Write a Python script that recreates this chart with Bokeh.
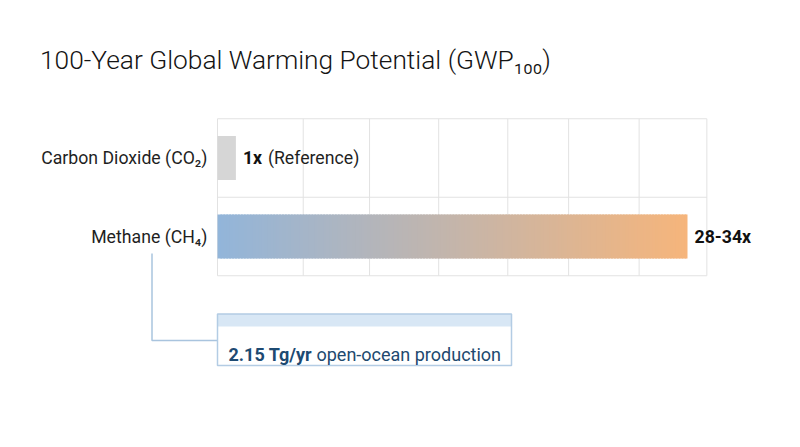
import numpy as np
from bokeh.plotting import figure
from bokeh.models import Range1d
from bokeh.core.properties import value
from bokeh.embed import file_html
from bokeh.resources import INLINE

# ---------------- data ----------------
gases = ["Carbon Dioxide (CO₂)", "Methane (CH₄)"]
gwp_values = [1, 34]
value_labels_bold = ["1x", "28-34x"]
value_labels_note = ["(Reference)", ""]
callout_bold = "2.15 Tg/yr"
callout_text = "open-ocean production"
title_text = "100-Year Global Warming Potential (GWP₁₀₀)"

# ---------------- layout helpers (page pixels -> data) ----------------
W, H = 784, 431
PAGE = 0                 # canvas origin in screenshot pixels
X0_PX = 217.0            # screenshot x of value 0
X_SCALE = 470.0 / 34.0   # px per unit
YC_PX = 236.0            # screenshot y of bottom row centre
Y_SCALE = 78.5           # px per row


def sx(px):
    return (px - X0_PX) / X_SCALE


def sy(py):
    return (YC_PX - py) / Y_SCALE


p = figure(width=W, height=H,
           x_range=Range1d(sx(PAGE), sx(PAGE + W)),
           y_range=Range1d(sy(PAGE + H), sy(PAGE)),
           output_backend="svg", toolbar_location=None,
           x_axis_location=None, y_axis_location=None,
           min_border=0, title=None)
p.outline_line_color = None
p.grid.visible = False
p.background_fill_color = "white"
p.border_fill_color = "white"

n = len(gases)
rows = [n - 1 - i for i in range(n)]
FONT = value("Roboto")
TXT = "#1f1f1f"
LBL = "17.7px"

# grid (table-like background)
grid_x = [0, 6.2, 11.0, 16.0, 21.0, 25.4, 30.5, 35.4]
grid_y = [r - 0.5 for r in rows] + [rows[0] + 0.5]
p.segment(x0=grid_x, y0=-0.5, x1=grid_x, y1=n - 0.5, line_color="#e2e2e2", line_width=1)
p.segment(x0=0, y0=grid_y, x1=grid_x[-1], y1=grid_y, line_color="#e2e2e2", line_width=1)

# bars
BAR_H = 0.56
MIN_LEN = 1.33
bar_end = [max(v, MIN_LEN) for v in gwp_values]

# CO2 (grey)
p.quad(left=[0], right=[bar_end[0]], bottom=[rows[0] - BAR_H / 2], top=[rows[0] + BAR_H / 2],
       fill_color="#d6d6d6", line_color=None)

# Methane gradient bar
c0 = np.array([147, 182, 218])
c1 = np.array([246, 181, 124])
N = 160
edges = np.linspace(0, bar_end[1], N + 1)
cols = []
for i in range(N):
    t = i / (N - 1)
    c = (c0 * (1 - t) + c1 * t).astype(int)
    cols.append("#%02x%02x%02x" % tuple(c))
right = edges[1:].copy()
right[:-1] += (edges[1] - edges[0]) * 0.6
p.quad(left=edges[:-1], right=right, bottom=rows[1] - BAR_H / 2, top=rows[1] + BAR_H / 2,
       fill_color=cols, line_color=None)

# category labels
p.text(x=0, y=rows, text=gases, x_offset=-10, text_align="right", text_baseline="middle",
       text_font=FONT, text_font_size=LBL, text_color=TXT)

# value labels
p.text(x=bar_end, y=rows, text=value_labels_bold, x_offset=7, text_align="left",
       text_baseline="middle", text_font=FONT, text_font_size=LBL,
       text_font_style="bold", text_color="#111111")
p.text(x=bar_end, y=rows, text=value_labels_note, x_offset=32, text_align="left",
       text_baseline="middle", text_font=FONT, text_font_size=LBL, text_color=TXT)

# connector
CONN = "#a9c4de"
p.line(x=[sx(151.5), sx(151.5), 0], y=[sy(253), sy(340), sy(340)],
       line_color=CONN, line_width=1.5)

# callout box
p.quad(left=[0], right=[sx(511)], top=[sy(313.5)], bottom=[sy(365)],
       fill_color="white", line_color=None)
p.quad(left=[0], right=[sx(511)], top=[sy(313.5)], bottom=[sy(326)],
       fill_color="#d8e7f5", line_color=None)
p.quad(left=[0], right=[sx(511)], top=[sy(313.5)], bottom=[sy(365)],
       fill_color=None, line_color="#b3cce4", line_width=1.5)

p.text(x=[sx(228)], y=[sy(353.5)], text=[callout_bold], text_align="left",
       text_baseline="alphabetic", text_font=FONT, text_font_size="18px",
       text_font_style="bold", text_color="#1d4a72")
p.text(x=[sx(316)], y=[sy(353.5)], text=[callout_text], text_align="left",
       text_baseline="alphabetic", text_font=FONT, text_font_size="18px",
       text_color="#21496e")

# title
p.text(x=[sx(39.5)], y=[sy(59.5)], text=[title_text], text_align="left",
       text_baseline="alphabetic", text_font=value("Roboto Light"),
       text_font_size="26.3px", text_color="#141414")

open("out.html", "w").write(file_html(p, INLINE))
